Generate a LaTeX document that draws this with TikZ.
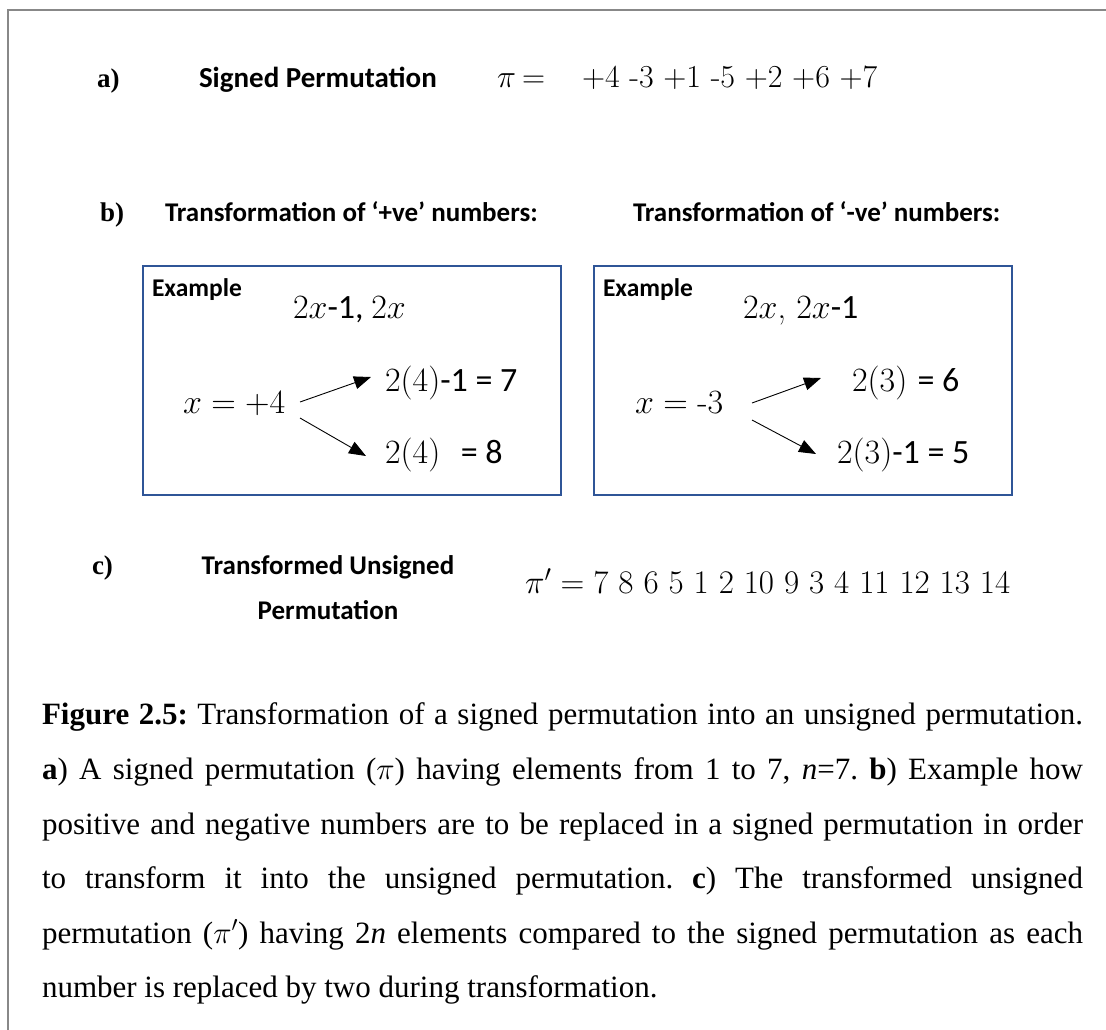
\RequirePackage{fix-cm}
\documentclass[tikz,border=0pt]{standalone}
\usepackage{fontspec}
\usetikzlibrary{arrows.meta}
\newfontfamily\timesfont{Liberation Serif}
\newfontfamily\calfont{Carlito}
\definecolor{framegray}{RGB}{136,136,136}
\definecolor{boxblue}{RGB}{47,85,151}
\frenchspacing
\begin{document}
\begin{tikzpicture}[x=1pt,y=-1pt,
  txt/.style={inner sep=0pt, outer sep=0pt, anchor=base west},
  lbl/.style={txt, font=\timesfont\bfseries\fontsize{27}{32}\selectfont},
  cal/.style={txt, font=\calfont\bfseries\fontsize{27}{33}\selectfont},
  mth/.style={txt, font=\fontsize{32}{38}\selectfont},
  bxm/.style={txt, font=\fontsize{34}{40}\selectfont},
  exlbl/.style={txt, font=\calfont\bfseries\fontsize{25.5}{30}\selectfont},
  exbox/.style={draw=boxblue, line width=2pt},
  arr/.style={line width=0.9pt, -{Triangle[length=17pt,width=13pt]}},
]
\useasboundingbox (0,0) rectangle (1106,1029);
\draw[framegray, line width=2.5pt] (8,1031) -- (8,10) -- (1108,10);

% row a
\node[lbl] (la) at (97,87) {a)};
\node[cal, font=\calfont\bfseries\fontsize{29}{35}\selectfont] (sp) at (199,87) {Signed Permutation};
\node[mth] (pi) at (497,87) {$\pi$};
\node[mth] (eq) at (522,87) {$=$};
\node[mth] (perm) at (582,87) {+4 -3 +1 -5 +2 +6 +7};

% row b
\node[lbl] (lb) at (100,221) {b)};
\node[cal] (tp) at (165,221) {Transformation of ‘+ve’ numbers:};
\node[cal] (tn) at (633,221) {Transformation of ‘-ve’ numbers:};

% boxes
\node[exbox, inner sep=0pt, minimum width=418pt, minimum height=229pt, anchor=north west] (boxL) at (142,265) {};
\node[exbox, inner sep=0pt, minimum width=418pt, minimum height=229pt, anchor=north west] (boxR) at (593,265) {};

% left box content
\node[exlbl] (exL) at (152,296) {Example};
\node[bxm] (fL) at (293,318) {2$x${\calfont -1, }2$x$};
\node[bxm] (xL) at (183,413) {$x=+4$};
\node[bxm] (r1L) at (385,391) {2(4){\calfont -1 = 7}};
\node[bxm] (r2L) at (385,463) {2(4)\ \ {\calfont = 8}};
\coordinate (aL1s) at (300,402);
\coordinate (aL1e) at (371,377);
\coordinate (aL2s) at (300,418);
\coordinate (aL2e) at (366,456);
\draw[arr] (aL1s) -- (aL1e);
\draw[arr] (aL2s) -- (aL2e);

% right box content
\node[exlbl] (exR) at (603,296) {Example};
\node[bxm] (fR) at (743,318) {2$x$, 2$x${\calfont -1}};
\node[bxm] (xR) at (635,413) {$x={}$-3};
\node[bxm] (r1R) at (852,391) {2(3) {\calfont = 6}};
\node[bxm] (r2R) at (837,463) {2(3){\calfont -1 = 5}};
\coordinate (aR1s) at (752,403);
\coordinate (aR1e) at (821,378);
\coordinate (aR2s) at (752,420);
\coordinate (aR2e) at (816,454);
\draw[arr] (aR1s) -- (aR1e);
\draw[arr] (aR2s) -- (aR2e);

% row c
\node[lbl] (lc) at (92,574) {c)};
\node[cal, anchor=base] (tu1) at (328,574) {Transformed Unsigned};
\node[cal, anchor=base] (tu2) at (328,619) {Permutation};
\node[txt, font=\fontsize{33}{39}\selectfont] (pip) at (525,593) {$\pi' = 7\ 8\ 6\ 5\ 1\ 2\ 10\ 9\ 3\ 4\ 11\ 12\ 13\ 14$};

% caption
\node[txt, anchor=north west, align=left,
      font=\timesfont\fontsize{31}{54.6}\selectfont\frenchspacing] (cap) at (42,703)
{\makebox[1041pt][s]{\frenchspacing\textbf{Figure 2.5:} Transformation of a signed permutation into an unsigned permutation.}\\
\makebox[1041pt][s]{\frenchspacing\textbf{a}) A signed permutation ($\pi$) having elements from 1 to 7, \textit{n}=7. \textbf{b}) Example how}\\
\makebox[1041pt][s]{\frenchspacing positive and negative numbers are to be replaced in a signed permutation in order}\\
\makebox[1041pt][s]{\frenchspacing to transform it into the unsigned permutation. \textbf{c}) The transformed unsigned}\\
\makebox[1041pt][s]{\frenchspacing permutation ($\pi'$) having 2\textit{n} elements compared to the signed permutation as each}\\
\makebox[1041pt][l]{\frenchspacing number is replaced by two during transformation.}};
\end{tikzpicture}
\end{document}
